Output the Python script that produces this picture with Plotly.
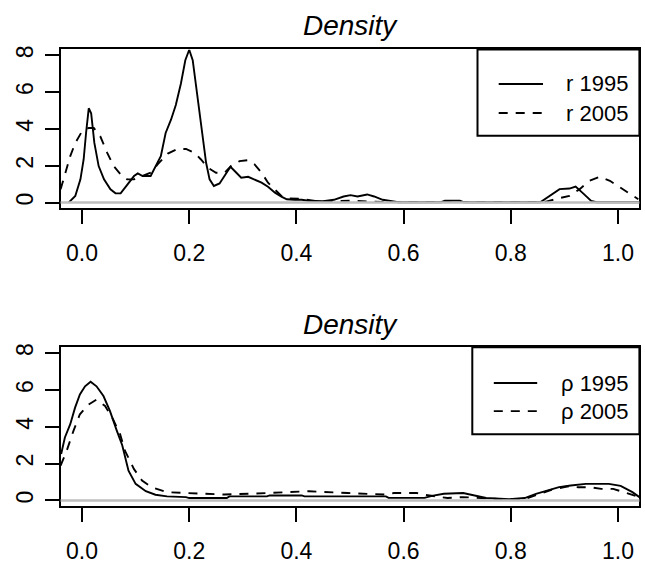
import plotly.graph_objects as go

# ---------------- data ----------------
r95_x = [-0.025, -0.0126, -0.003, 0.003, 0.0075, 0.0125, 0.017, 0.023, 0.031, 0.041, 0.053, 0.0625, 0.072,
         0.0845, 0.097, 0.104, 0.113, 0.128, 0.1345, 0.147, 0.156, 0.166, 0.175, 0.1845, 0.1927, 0.2, 0.2065,
         0.216, 0.225, 0.2315, 0.238, 0.246, 0.2566, 0.266, 0.277, 0.288, 0.297, 0.31, 0.322, 0.335, 0.347,
         0.36, 0.372, 0.382, 0.397, 0.41, 0.422, 0.45, 0.47, 0.488, 0.501, 0.514, 0.532, 0.545, 0.561, 0.573,
         0.59, 0.67, 0.677, 0.705, 0.712, 0.855, 0.875, 0.891, 0.9095, 0.921, 0.935, 0.95, 0.96, 1.04]
r95_y = [0.0, 0.36, 1.26, 2.34, 3.78, 5.12, 4.85, 3.24, 1.98, 1.26, 0.72, 0.5, 0.5,
         0.99, 1.44, 1.58, 1.44, 1.44, 1.8, 2.52, 3.78, 4.5, 5.3, 6.47, 7.73, 8.3, 7.73,
         5.57, 3.41, 2.16, 1.26, 0.9, 1.04, 1.44, 1.94, 1.62, 1.35, 1.4, 1.26, 1.08, 0.86,
         0.54, 0.32, 0.18, 0.15, 0.15, 0.1, 0.08, 0.15, 0.33, 0.4, 0.33, 0.44, 0.33, 0.15, 0.09,
         0.02, 0.02, 0.1, 0.1, 0.02, 0.02, 0.4, 0.73, 0.76, 0.87, 0.5, 0.09, 0.02, 0.02]

r05_x = [-0.04, -0.031, -0.022, -0.0126, 0.0, 0.0125, 0.022, 0.034, 0.047, 0.059, 0.072, 0.084, 0.097,
         0.109, 0.128, 0.141, 0.16, 0.178, 0.194, 0.21, 0.222, 0.235, 0.25, 0.266, 0.278, 0.294, 0.31,
         0.322, 0.335, 0.347, 0.36, 0.372, 0.385, 0.41, 0.435, 0.47, 0.5, 0.53, 0.56, 0.85, 0.866, 0.891,
         0.9095, 0.9285, 0.947, 0.966, 0.985, 1.004, 1.023, 1.038]
r05_y = [0.72, 1.62, 2.52, 3.24, 3.87, 4.05, 4.05, 3.6, 2.7, 1.98, 1.53, 1.26, 1.26,
         1.4, 1.62, 2.07, 2.66, 2.91, 2.91, 2.7, 2.34, 1.89, 1.62, 1.62, 1.98, 2.25, 2.3,
         2.07, 1.62, 1.08, 0.68, 0.36, 0.22, 0.2, 0.09, 0.07, 0.1, 0.07, 0.03, 0.03, 0.05, 0.24,
         0.36, 0.73, 1.18, 1.4, 1.18, 0.82, 0.45, 0.18]

rho95_x = [-0.039, -0.032, -0.022, -0.013, -0.004, 0.0056, 0.016, 0.027, 0.04, 0.052, 0.065, 0.075,
           0.0867, 0.1, 0.119, 0.137, 0.1586, 0.194, 0.2, 0.27, 0.275, 0.345, 0.35, 0.41, 0.415, 0.567,
           0.572, 0.639, 0.653, 0.675, 0.711, 0.7325, 0.754, 0.797, 0.826, 0.847, 0.869, 0.89, 0.912,
           0.94, 0.983, 1.005, 1.027, 1.04]
rho95_y = [2.52, 3.42, 4.14, 5.04, 5.76, 6.2, 6.45, 6.2, 5.67, 4.86, 3.78, 3.0,
           1.62, 0.9, 0.5, 0.31, 0.22, 0.18, 0.13, 0.13, 0.22, 0.22, 0.27, 0.27, 0.22, 0.22,
           0.14, 0.14, 0.25, 0.36, 0.4, 0.27, 0.13, 0.07, 0.13, 0.36, 0.54, 0.72, 0.81,
           0.9, 0.9, 0.79, 0.45, 0.18]

rho05_x = [-0.04, -0.0286, -0.016, -0.004, 0.012, 0.027, 0.043, 0.058, 0.071, 0.08, 0.097, 0.112, 0.13,
           0.1586, 0.194, 0.266, 0.345, 0.4235, 0.496, 0.567, 0.582, 0.625, 0.639, 0.668, 0.682, 0.711,
           0.746, 0.783, 0.826, 0.847, 0.876, 0.905, 0.926, 0.948, 0.969, 0.991, 1.012, 1.04]
rho05_y = [1.89, 2.7, 3.78, 4.68, 5.2, 5.48, 5.13, 4.4, 3.6, 2.7, 1.7, 1.08, 0.72,
           0.45, 0.4, 0.32, 0.4, 0.5, 0.4, 0.32, 0.4, 0.4, 0.31, 0.18, 0.13, 0.18,
           0.13, 0.07, 0.07, 0.27, 0.58, 0.76, 0.72, 0.72, 0.63, 0.63, 0.45, 0.18]

x_ticks = [0.0, 0.2, 0.4, 0.6, 0.8, 1.0]
x_ticktext = ["0.0", "0.2", "0.4", "0.6", "0.8", "1.0"]
y_ticks = [0, 2, 4, 6, 8]
x_range = [-0.04, 1.04]
y_range = [-0.32, 8.32]

titles = ["Density", "Density"]
legend_top = ["r 1995", "r 2005"]
legend_bottom = ["ρ 1995", "ρ 2005"]

# ---------------- layout helpers ----------------
W, H = 645, 567
FONT = "Liberation Sans, Arial, sans-serif"
DASH = "9px,8px"


def px_x(p):
    return p / W


def px_y(p):
    return 1 - p / H


box_l, box_r = 60.6, 639.4
top_t, top_b = 45.7, 205.9
bot_t, bot_b = 345.7, 505.9

fig = go.Figure()
line_w = 1.9
fig.add_trace(go.Scatter(x=r95_x, y=r95_y, mode="lines", line=dict(color="black", width=line_w),
                         xaxis="x", yaxis="y", showlegend=False))
fig.add_trace(go.Scatter(x=r05_x, y=r05_y, mode="lines", line=dict(color="black", width=line_w, dash=DASH),
                         xaxis="x", yaxis="y", showlegend=False))
fig.add_trace(go.Scatter(x=rho95_x, y=rho95_y, mode="lines", line=dict(color="black", width=line_w),
                         xaxis="x2", yaxis="y2", showlegend=False))
fig.add_trace(go.Scatter(x=rho05_x, y=rho05_y, mode="lines", line=dict(color="black", width=line_w, dash=DASH),
                         xaxis="x2", yaxis="y2", showlegend=False))

xaxis_common = dict(range=x_range, tickvals=x_ticks, ticktext=x_ticktext, ticks="outside", ticklen=14,
                    tickwidth=2, tickcolor="black", showline=True, linewidth=2, linecolor="black",
                    mirror=True, showgrid=False, zeroline=False, ticklabelstandoff=9,
                    tickfont=dict(family=FONT, size=23, color="black"))
yaxis_common = dict(range=y_range, tickvals=y_ticks, ticks="outside", ticklen=14, tickwidth=2,
                    tickcolor="black", showline=True, linewidth=2, linecolor="black", mirror=True,
                    showgrid=False, zeroline=False, tickangle=-90, ticklabelstandoff=2,
                    tickfont=dict(family=FONT, size=23, color="black"))

dom_x = [px_x(box_l), px_x(box_r)]
fig.update_layout(
    width=W, height=H, margin=dict(l=0, r=0, t=0, b=0),
    paper_bgcolor="white", plot_bgcolor="white",
    xaxis=dict(domain=dom_x, anchor="y", **xaxis_common),
    yaxis=dict(domain=[px_y(top_b), px_y(top_t)], anchor="x", **yaxis_common),
    xaxis2=dict(domain=dom_x, anchor="y2", **xaxis_common),
    yaxis2=dict(domain=[px_y(bot_b), px_y(bot_t)], anchor="x2", **yaxis_common),
)

shapes = []
# gray zero lines
for xr, yr in (("x domain", "y"), ("x2 domain", "y2")):
    shapes.append(dict(type="line", xref=xr, yref=yr, x0=0, x1=1, y0=0, y1=0,
                       line=dict(color="#bebebe", width=2.5), layer="above"))

annotations = []
# titles
for txt, yc in zip(titles, (22, 323)):
    annotations.append(dict(text=f"<i>{txt}</i>", x=px_x((box_l + box_r) / 2), y=px_y(yc), xref="paper",
                            yref="paper", showarrow=False, xanchor="center", yanchor="middle",
                            font=dict(family=FONT, size=28, color="black")))

# legends
legend_specs = [
    (legend_top, 477.5, top_t, 132.7, (498.7, 543.0), 564.0, (80.5, 109.8)),
    (legend_bottom, 472.3, bot_t, 433.3, (493.8, 537.2), 559.0, (381.7, 410.0)),
]
for labels, lx0, ly0, ly1, (sx0, sx1), tx, ys in legend_specs:
    shapes.append(dict(type="rect", xref="paper", yref="paper", x0=px_x(lx0), x1=px_x(box_r),
                       y0=px_y(ly1), y1=px_y(ly0), line=dict(color="black", width=2),
                       fillcolor="white", layer="above"))
    for i, (lab, yy) in enumerate(zip(labels, ys)):
        shapes.append(dict(type="line", xref="paper", yref="paper", x0=px_x(sx0), x1=px_x(sx1),
                           y0=px_y(yy), y1=px_y(yy),
                           line=dict(color="black", width=line_w, dash=("solid" if i == 0 else DASH)),
                           layer="above"))
        annotations.append(dict(text=lab, x=px_x(tx), y=px_y(yy), xref="paper", yref="paper",
                                showarrow=False, xanchor="left", yanchor="middle",
                                font=dict(family=FONT, size=22, color="black")))

fig.update_layout(shapes=shapes, annotations=annotations)
fig.write_html("out.html")
